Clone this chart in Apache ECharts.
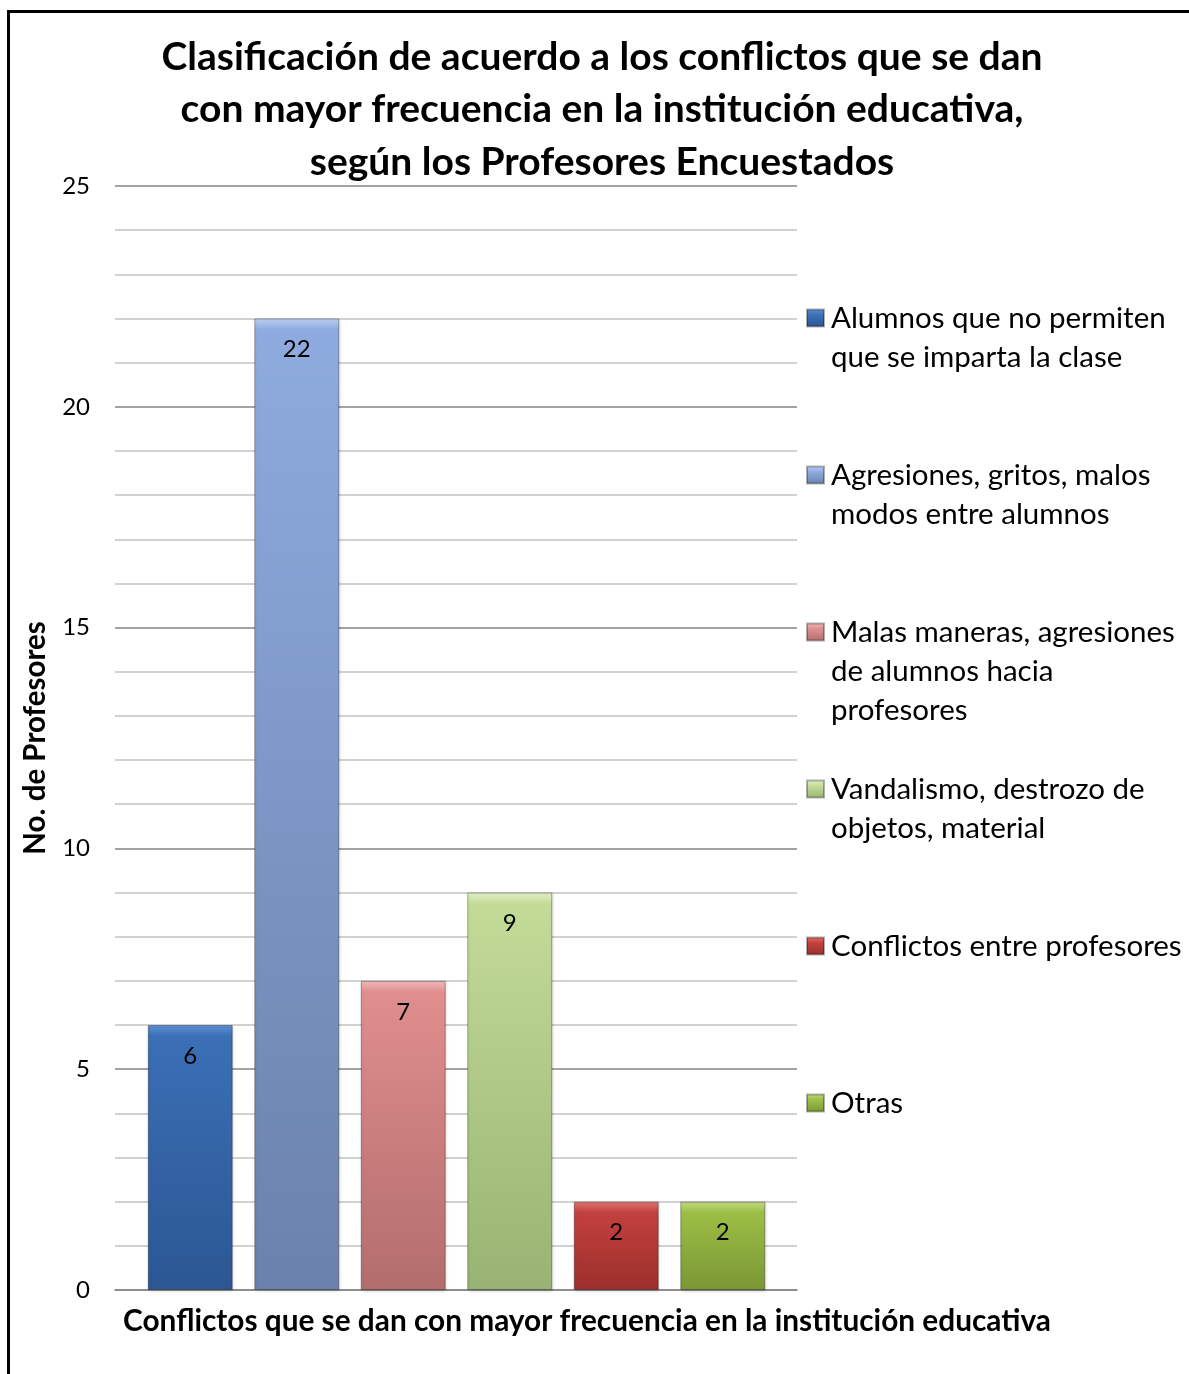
<!DOCTYPE html>
<html>
<head>
<meta charset="utf-8">
<script src="https://cdn.jsdelivr.net/npm/echarts@6/dist/echarts.min.js"></script>
<style>
html,body{margin:0;padding:0;background:#fff;}
#chart{width:1189px;height:1374px;}
</style>
</head>
<body>
<div id="chart"></div>
<script>
// ---- data ----
var categories = [
  'Alumnos que no permiten que se imparta la clase',
  'Agresiones, gritos, malos modos entre alumnos',
  'Malas maneras, agresiones de alumnos hacia profesores',
  'Vandalismo, destrozo de objetos, material',
  'Conflictos entre profesores',
  'Otras'
];
var legendLabels = [
  'Alumnos que no permiten\nque se imparta la clase',
  'Agresiones, gritos, malos\nmodos entre alumnos',
  'Malas maneras, agresiones\nde alumnos hacia\nprofesores',
  'Vandalismo, destrozo de\nobjetos, material',
  'Conflictos entre profesores',
  'Otras'
];
var values = [6, 22, 7, 9, 2, 2];
var yTicks = [0, 5, 10, 15, 20, 25];
var titleText = 'Clasificación de acuerdo a los conflictos que se dan\ncon mayor frecuencia en la institución educativa,\nsegún los Profesores Encuestados';
var xAxisTitle = 'Conflictos que se dan con mayor frecuencia en la institución educativa';
var yAxisTitle = 'No. de Profesores';

// ---- styling ----
var palette = [
  {hi:'#5d91d8', top:'#3b6fb6', bot:'#2b5793'},
  {hi:'#bcd0f2', top:'#8eabdf', bot:'#6a82ab'},
  {hi:'#f4b9b9', top:'#e08e8e', bot:'#b36d6d'},
  {hi:'#e3f0c6', top:'#c4db98', bot:'#98b373'},
  {hi:'#e07370', top:'#c2403d', bot:'#9c2f2c'},
  {hi:'#c2dc80', top:'#9cbe46', bot:'#7a9734'}
];
var FONT = 'Lato, "Noto Sans", sans-serif';
var PX_PER_UNIT = (1290 - 186) / 25;

function barGradient(p, v) {
  var b = Math.min(0.45, 11 / (v * PX_PER_UNIT));
  return new echarts.graphic.LinearGradient(0, 0, 0, 1, [
    {offset: 0, color: p.hi},
    {offset: b, color: p.top},
    {offset: 1, color: p.bot}
  ]);
}
function iconGradient(p) {
  return new echarts.graphic.LinearGradient(0, 0, 0, 1, [
    {offset: 0, color: p.hi},
    {offset: 0.35, color: p.top},
    {offset: 1, color: p.bot}
  ]);
}

var series = categories.map(function (name, i) {
  return {
    name: name,
    type: 'bar',
    xAxisIndex: 1,
    yAxisIndex: 1,
    stack: 'all',
    barWidth: 85,
    data: categories.map(function (c, j) { return j === i ? values[i] : '-'; }),
    itemStyle: {
      color: barGradient(palette[i], values[i]),
      borderColor: 'rgba(0,0,0,0.3)',
      borderWidth: 1,
      shadowColor: 'rgba(0,0,0,0.18)',
      shadowBlur: 3,
      shadowOffsetX: 1,
      shadowOffsetY: 1
    },
    label: {
      show: true,
      position: 'insideTop',
      distance: 19,
      fontSize: 24,
      fontFamily: FONT,
      color: '#000'
    }
  };
});

var LH = 39;
var LEG_FS = 29.5;
var legends = categories.map(function (name, i) {
  var lines = legendLabels[i].split('\n');
  var n = lines.length;
  var center = 318 + 157 * i;
  var rich = {
    a: {fontSize: LEG_FS, fontFamily: FONT, color: '#000', lineHeight: LH, padding: [0, 0, 0, 2]},
    p: {fontSize: 2, lineHeight: Math.max(1, (n - 1) * LH), height: Math.max(1, (n - 1) * LH)}
  };
  return {
    data: [{name: name, icon: 'rect', itemStyle: {color: iconGradient(palette[i])}}],
    orient: 'vertical',
    left: 806,
    top: center - (2 * n - 1) * LH / 2,
    padding: 0,
    itemWidth: 17,
    itemHeight: 17,
    formatter: function () {
      var s = lines.map(function (l) { return '{a|' + l + '}'; }).join('\n');
      return n > 1 ? '{p| }\n' + s : s;
    },
    textStyle: {
      fontSize: LEG_FS,
      fontFamily: FONT,
      color: '#000',
      lineHeight: LH,
      rich: rich
    }
  };
});

var option = {
  backgroundColor: '#fff',
  animation: false,
  title: [
    {
      text: titleText,
      left: 602,
      top: 31,
      textAlign: 'center',
      padding: 0,
      textStyle: {fontSize: 39, fontWeight: 'bold', fontFamily: FONT, color: '#000', lineHeight: 52.5}
    },
    {
      text: xAxisTitle,
      left: 587,
      top: 1306,
      textAlign: 'center',
      padding: 0,
      textStyle: {fontSize: 29.8, fontWeight: 'bold', fontFamily: FONT, color: '#000'}
    }
  ],
  legend: legends,
  graphic: [
    {type: 'rect', shape: {x: 8.5, y: 11.5, width: 1300, height: 1500},
     style: {fill: null, stroke: '#000', lineWidth: 3}, silent: true, z: 100}
  ],
  grid: [
    {left: 115, right: 392, top: 186, bottom: 84},
    {left: 137, right: 413, top: 186, bottom: 84}
  ],
  xAxis: [
    {
      gridIndex: 0, type: 'category', data: categories,
      axisLine: {show: true, lineStyle: {color: '#868686', width: 1.5}},
      axisTick: {show: false}, axisLabel: {show: false}, splitLine: {show: false}
    },
    {
      gridIndex: 1, type: 'category', data: categories,
      axisLine: {show: false}, axisTick: {show: false}, axisLabel: {show: false}, splitLine: {show: false}
    }
  ],
  yAxis: [
    {
      gridIndex: 0, type: 'value', min: yTicks[0], max: yTicks[yTicks.length - 1], interval: 5,
      name: yAxisTitle, nameLocation: 'middle', nameGap: 65,
      nameTextStyle: {fontSize: 29.5, fontWeight: 'bold', fontFamily: FONT, color: '#000'},
      axisLine: {show: false}, axisTick: {show: false},
      axisLabel: {fontSize: 24, fontFamily: FONT, color: '#000', margin: 25},
      splitLine: {show: true, lineStyle: {color: '#868686', width: 1.5}},
      minorTick: {show: false, splitNumber: 5},
      minorSplitLine: {show: true, lineStyle: {color: '#c2c2c2', width: 1.5}}
    },
    {
      gridIndex: 1, type: 'value', min: 0, max: 25, show: false,
      splitLine: {show: false}
    }
  ],
  series: series
};

var chart = echarts.init(document.getElementById('chart'), null, {renderer: 'canvas'});
chart.setOption(option);
</script>
</body>
</html>
